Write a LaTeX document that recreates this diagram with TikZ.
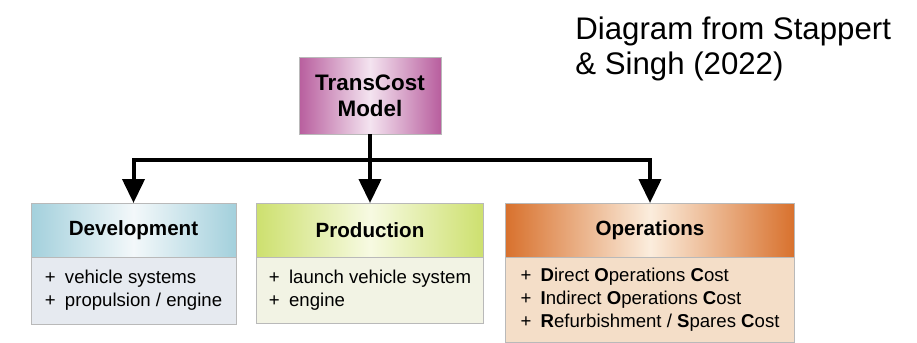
\documentclass[tikz,border=0pt]{standalone}
\usepackage{fontspec}
\setmainfont{Liberation Sans}
\usepackage{tikz}
\usetikzlibrary{positioning, arrows.meta}

% Colores de las cajas
\definecolor{modelo}{HTML}{B85E9E}
\definecolor{modeloclaro}{HTML}{F4E4F0}
\definecolor{desarrollo}{HTML}{A3D0DC}
\definecolor{desarrolloclaro}{HTML}{F3F8FA}
\definecolor{desarrollofondo}{HTML}{E6EAF0}
\definecolor{produccion}{HTML}{CDE06E}
\definecolor{produccionclaro}{HTML}{F7FAE2}
\definecolor{produccionfondo}{HTML}{F2F3E4}
\definecolor{operacion}{HTML}{D8712D}
\definecolor{operacionclaro}{HTML}{FBEDDD}
\definecolor{operacionfondo}{HTML}{F4DEC8}

\tikzset{
  caja/.style={rectangle, draw=gray!55, line width=0.5pt, inner sep=0pt, outer sep=0pt},
  model/.style={caja, minimum width=71pt, minimum height=38.5pt, align=center, font=\fontsize{11.2}{13}\selectfont\bfseries, left color=modelo, right color=modelo, middle color=modeloclaro},
  head/.style={caja, minimum height=27pt, font=\fontsize{10.3}{12}\selectfont\bfseries},
  body/.style={caja, align=left, font=\fontsize{9.3}{11.5}\selectfont},
  link/.style={line width=2pt, black},
  arrow/.style={link, -{Triangle[width=11pt,length=12pt]}},
  caption/.style={align=left, inner sep=0pt, font=\fontsize{15.6}{17.8}\selectfont}
}
\newcommand{\punto}{+\enspace}

\begin{document}
\begin{tikzpicture}[x=0.5pt, y=-0.5pt]
    \useasboundingbox (0,0) rectangle (917,343);

    % 1. Modelo principal
    \node[model] (model) at (370,95.5) {TransCost\\Model};
    \coordinate (split) at ([yshift=-13pt]model.south);

    % ==========================================
    % 2. Cajas de costos
    % ==========================================
    \node[head, minimum width=102.5pt, left color=desarrollo, right color=desarrollo, middle color=desarrolloclaro] (dev) at (133.5,230) {Development};
    \node[body, below=0pt of dev, minimum width=102.5pt, minimum height=33.5pt, fill=desarrollofondo] (devbody) {\punto vehicle systems\\\punto propulsion / engine\vphantom{g}};

    \node[head, minimum width=113.5pt, left color=produccion, right color=produccion, middle color=produccionclaro] (prod) at (370,230) {Production};
    \node[body, below=0pt of prod, minimum width=113.5pt, minimum height=33pt, fill=produccionfondo] (prodbody) {\punto launch vehicle system\\\punto engine};

    \node[head, minimum width=144.5pt, left color=operacion, right color=operacion, middle color=operacionclaro] (ops) at (650,230) {Operations};
    \node[body, below=0pt of ops, minimum width=144.5pt, minimum height=42.5pt, fill=operacionfondo] (opsbody) {\punto\textbf{D}irect \textbf{O}perations \textbf{C}ost\\\punto\textbf{I}ndirect \textbf{O}perations \textbf{C}ost\\\punto\textbf{R}efurbishment / \textbf{S}pares \textbf{C}ost};

    % 3. Conexiones
    \draw[link] (model.south) -- (split);
    \draw[arrow] (split) -| (dev.north);
    \draw[arrow] (split) -- (prod.north);
    \draw[arrow] (split) -| (ops.north);

    % Fuente
    \node[caption, anchor=north west] (source) at (575,16) {Diagram from Stappert\\\& Singh (2022)};

\end{tikzpicture}
\end{document}
